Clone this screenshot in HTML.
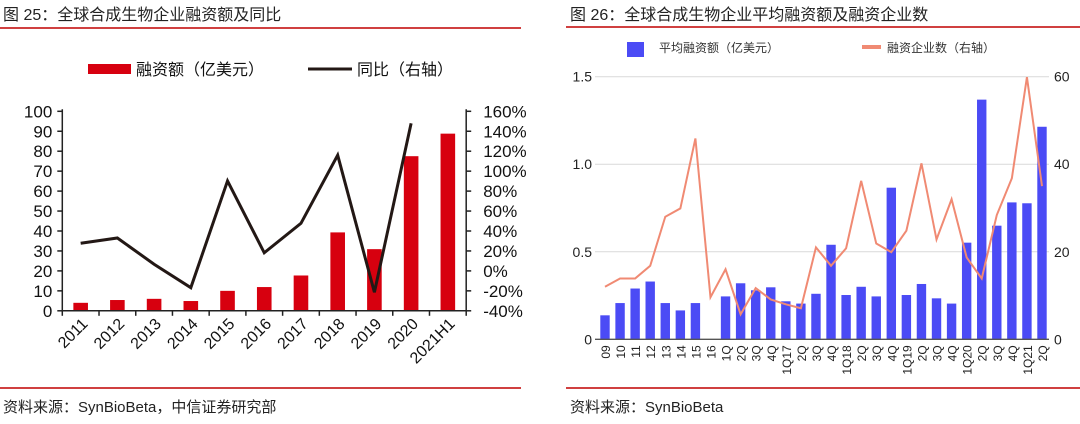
<!DOCTYPE html>
<html><head><meta charset="utf-8">
<style>
body{margin:0;background:#fff;width:1080px;height:419px;overflow:hidden;font-family:"Liberation Sans","Noto Sans CJK SC",sans-serif;}
svg text{font-family:"Liberation Sans","Noto Sans CJK SC",sans-serif;}
</style></head><body>
<svg id="s" width="1080" height="419" viewBox="0 0 1080 419">
<g>
<text x="3" y="20" font-size="16" fill="#222">图 25：全球合成生物企业融资额及同比</text>
<line x1="0" y1="28" x2="521" y2="28" stroke="#c00000" stroke-width="1.5"/>
<line x1="0" y1="388" x2="521" y2="388" stroke="#c00000" stroke-width="1.5"/>
<text x="3" y="412" font-size="15" fill="#222">资料来源：SynBioBeta，中信证券研究部</text>
</g>
<g>
<rect x="88" y="64" width="43" height="10" fill="#d7000f"/>
<text x="136" y="75" font-size="16" fill="#111">融资额（亿美元）</text>
<line x1="308" y1="69" x2="352" y2="69" stroke="#231815" stroke-width="3"/>
<text x="357" y="75" font-size="16" fill="#111">同比（右轴）</text>
</g>
<g id="L"></g>
<g>
<text x="570" y="20" font-size="16" fill="#222">图 26：全球合成生物企业平均融资额及融资企业数</text>
<line x1="566" y1="27" x2="1080" y2="27" stroke="#c00000" stroke-width="1.5"/>
<line x1="566" y1="388" x2="1080" y2="388" stroke="#c00000" stroke-width="1.5"/>
<text x="570" y="412" font-size="15" fill="#222">资料来源：SynBioBeta</text>
</g>
<g>
<rect x="627" y="42" width="17" height="15" fill="#4b4bf5"/>
<text x="659" y="52" font-size="12" fill="#333">平均融资额（亿美元）</text>
<line x1="862" y1="47" x2="881" y2="47" stroke="#f08a73" stroke-width="4"/>
<text x="887" y="52" font-size="12" fill="#333">融资企业数（右轴）</text>
</g>
<g id="R"></g>
</svg>
<script>
const leftYears=["2011","2012","2013","2014","2015","2016","2017","2018","2019","2020","2021H1"];
const leftFunding=[4.0,5.4,6.0,4.9,10.0,11.9,17.7,39.3,30.9,77.5,88.8];
const leftYoY=[27.7,33,6.7,-16.8,90.2,18.2,47.7,116,-21.4,148];
const leftTicks=[0,10,20,30,40,50,60,70,80,90,100];
const leftPctTicks=[-40,-20,0,20,40,60,80,100,120,140,160];

const rightCats=["09","10","11","12","13","14","15","16","1Q","2Q","3Q","4Q","1Q17","2Q","3Q","4Q","1Q18","2Q","3Q","4Q","1Q19","2Q","3Q","4Q","1Q20","2Q","3Q","4Q","1Q21","2Q"];
const rightAvg=[0.137,0.207,0.29,0.33,0.207,0.165,0.207,0,0.245,0.32,0.28,0.297,0.217,0.204,0.26,0.54,0.253,0.30,0.245,0.866,0.253,0.316,0.234,0.204,0.552,1.369,0.649,0.782,0.777,1.214];
const rightCount=[12,13.9,13.9,16.8,28,29.9,45.9,9.6,16,5.7,11.7,9.1,8,7.1,21,16.8,20.8,36.2,21.9,19.9,24.8,40.2,22.8,32,18.7,13.9,28.4,36.8,59.9,35];
const rightTicks=[0,0.5,1.0,1.5];
const rightTickLabels=["0","0.5","1.0","1.5"];
const rightCountTicks=[0,20,40,60];

const NS="http://www.w3.org/2000/svg";
function mk(p,t,a,txt){const e=document.createElementNS(NS,t);for(const k in a)e.setAttribute(k,a[k]);if(txt!==undefined)e.textContent=txt;p.appendChild(e);return e;}

// LEFT
(function(){
const g=document.getElementById('L');
const x0=62.3,x1=466.2,yb=310.8,yt=111.3;
const n=leftYears.length,bw=(x1-x0)/n;
const y=v=>yb-(v/100)*(yb-yt);
const y2=v=>yb-((v+40)/200)*(yb-yt);
const cx=i=>x0+bw*(i+0.5);
leftTicks.forEach(t=>{
 const l=mk(g,'line',{x1:x0-5,y1:y(t),x2:x0,y2:y(t),stroke:'#222','stroke-width':1.5});
 
 
 const tx=mk(g,'text',{x:x0-10,y:y(t)+6,'text-anchor':'end','font-size':17,fill:'#111'},String(t));
 
 
});
leftPctTicks.forEach(t=>{
 const l=mk(g,'line',{x1:x1,y1:y2(t),x2:x1+5,y2:y2(t),stroke:'#222','stroke-width':1.5});
 
 
 const tx=mk(g,'text',{x:x1+17,y:y2(t)+6,'font-size':17,fill:'#111'},t+'%');
 
 
});
leftFunding.forEach((v,i)=>{
 const r=mk(g,'rect',{x:cx(i)-7.3,y:y(v),width:14.6,height:yb-y(v),fill:'#d7000f'});
 
 
});
const ax=mk(g,'line',{x1:x0,y1:y(100)-2,x2:x0,y2:yb,stroke:'#222','stroke-width':1.5});


const ax2=mk(g,'line',{x1:x1,y1:y(100)-2,x2:x1,y2:yb,stroke:'#222','stroke-width':1.5});


const xa=mk(g,'line',{x1:x0,y1:yb,x2:x1,y2:yb,stroke:'#222','stroke-width':1.5});


for(let i=0;i<=n;i++){const t=mk(g,'line',{x1:x0+bw*i,y1:yb,x2:x0+bw*i,y2:yb+5,stroke:'#222','stroke-width':1.5});
 
 }
leftYears.forEach((s,i)=>{
 const tx=mk(g,'text',{x:cx(i)+8,y:yb+14,'text-anchor':'end','font-size':16,fill:'#111',transform:`rotate(-45 ${cx(i)+8} ${yb+14})`},s);
 
 
});
const pts=leftYoY.map((v,i)=>cx(i)+','+y2(v)).join(' ');
const pl=mk(g,'polyline',{points:pts,fill:'none',stroke:'#231815','stroke-width':3,'stroke-linejoin':'miter'});


})();

// RIGHT
(function(){
const g=document.getElementById('R');
const x0=595,x1=1049,yb=339.3,yt=76.7;
const n=rightCats.length,step=(1042-605)/(n-1);
const cx=i=>605+step*i;
const y=v=>yb-(v/1.5)*(yb-yt);
const y2=v=>yb-(v/60)*(yb-yt);
rightTicks.forEach((t,i)=>{
 if(t>0){const l=mk(g,'line',{x1:x0,y1:y(t),x2:x1,y2:y(t),stroke:'#d9d9d9','stroke-width':1});
 
 }
 const tx=mk(g,'text',{x:x0-3,y:y(t)+5,'text-anchor':'end','font-size':14,fill:'#222'},rightTickLabels[i]);
 
 
});
rightCountTicks.forEach(t=>{
 const tx=mk(g,'text',{x:x1+5,y:y2(t)+5,'font-size':14,fill:'#222'},String(t));
 
 
});
rightAvg.forEach((v,i)=>{
 const r=mk(g,'rect',{x:cx(i)-4.7,y:y(v),width:9.4,height:yb-y(v),fill:'#4b4bf5'});
 
 
});
const xa=mk(g,'line',{x1:x0,y1:yb,x2:x1,y2:yb,stroke:'#555','stroke-width':1.3});


rightCats.forEach((s,i)=>{
 const tx=mk(g,'text',{x:cx(i)+5,y:yb+6,'text-anchor':'end','font-size':12,fill:'#222',transform:`rotate(-90 ${cx(i)+5} ${yb+6})`},s);
 
 
});
const pts=rightCount.map((v,i)=>cx(i)+','+y2(v)).join(' ');
const pl=mk(g,'polyline',{points:pts,fill:'none',stroke:'#f08a73','stroke-width':2});


})();
</script>
</body></html>
